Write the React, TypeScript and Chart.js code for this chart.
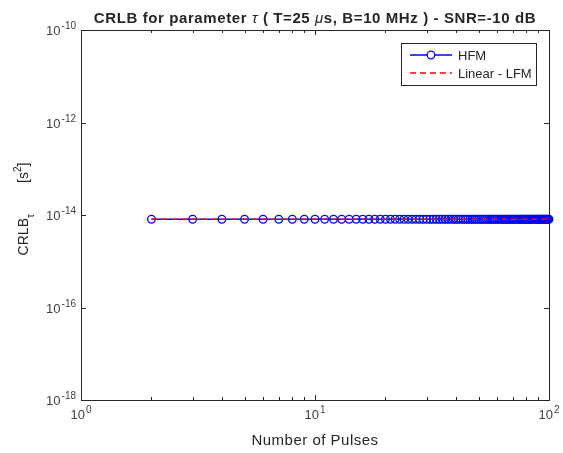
import React, { useEffect, useRef } from "react";
import { Chart, registerables } from "chart.js";
Chart.register(...registerables);

// ---- data ----
const pulses = [
  2, 3, 4, 5, 6, 7, 8, 9, 10, 11, 12,
  13, 14, 15, 16, 17, 18, 19, 20, 21, 22, 23,
  24, 25, 26, 27, 28, 29, 30, 31, 32, 33, 34,
  35, 36, 37, 38, 39, 40, 41, 42, 43, 44, 45,
  46, 47, 48, 49, 50, 51, 52, 53, 54, 55, 56,
  57, 58, 59, 60, 61, 62, 63, 64, 65, 66, 67,
  68, 69, 70, 71, 72, 73, 74, 75, 76, 77, 78,
  79, 80, 81, 82, 83, 84, 85, 86, 87, 88, 89,
  90, 91, 92, 93, 94, 95, 96, 97, 98, 99, 100,
];
const hfmCrlb = [
  8.1e-15, 8.1e-15, 8.1e-15, 8.1e-15, 8.1e-15, 8.1e-15, 8.1e-15, 8.1e-15, 8.1e-15, 8.1e-15, 8.1e-15,
  8.1e-15, 8.1e-15, 8.1e-15, 8.1e-15, 8.1e-15, 8.1e-15, 8.1e-15, 8.1e-15, 8.1e-15, 8.1e-15, 8.1e-15,
  8.1e-15, 8.1e-15, 8.1e-15, 8.1e-15, 8.1e-15, 8.1e-15, 8.1e-15, 8.1e-15, 8.1e-15, 8.1e-15, 8.1e-15,
  8.1e-15, 8.1e-15, 8.1e-15, 8.1e-15, 8.1e-15, 8.1e-15, 8.1e-15, 8.1e-15, 8.1e-15, 8.1e-15, 8.1e-15,
  8.1e-15, 8.1e-15, 8.1e-15, 8.1e-15, 8.1e-15, 8.1e-15, 8.1e-15, 8.1e-15, 8.1e-15, 8.1e-15, 8.1e-15,
  8.1e-15, 8.1e-15, 8.1e-15, 8.1e-15, 8.1e-15, 8.1e-15, 8.1e-15, 8.1e-15, 8.1e-15, 8.1e-15, 8.1e-15,
  8.1e-15, 8.1e-15, 8.1e-15, 8.1e-15, 8.1e-15, 8.1e-15, 8.1e-15, 8.1e-15, 8.1e-15, 8.1e-15, 8.1e-15,
  8.1e-15, 8.1e-15, 8.1e-15, 8.1e-15, 8.1e-15, 8.1e-15, 8.1e-15, 8.1e-15, 8.1e-15, 8.1e-15, 8.1e-15,
  8.1e-15, 8.1e-15, 8.1e-15, 8.1e-15, 8.1e-15, 8.1e-15, 8.1e-15, 8.1e-15, 8.1e-15, 8.1e-15, 8.1e-15,
];
const lfmCrlb = [
  8.1e-15, 8.1e-15, 8.1e-15, 8.1e-15, 8.1e-15, 8.1e-15, 8.1e-15, 8.1e-15, 8.1e-15, 8.1e-15, 8.1e-15,
  8.1e-15, 8.1e-15, 8.1e-15, 8.1e-15, 8.1e-15, 8.1e-15, 8.1e-15, 8.1e-15, 8.1e-15, 8.1e-15, 8.1e-15,
  8.1e-15, 8.1e-15, 8.1e-15, 8.1e-15, 8.1e-15, 8.1e-15, 8.1e-15, 8.1e-15, 8.1e-15, 8.1e-15, 8.1e-15,
  8.1e-15, 8.1e-15, 8.1e-15, 8.1e-15, 8.1e-15, 8.1e-15, 8.1e-15, 8.1e-15, 8.1e-15, 8.1e-15, 8.1e-15,
  8.1e-15, 8.1e-15, 8.1e-15, 8.1e-15, 8.1e-15, 8.1e-15, 8.1e-15, 8.1e-15, 8.1e-15, 8.1e-15, 8.1e-15,
  8.1e-15, 8.1e-15, 8.1e-15, 8.1e-15, 8.1e-15, 8.1e-15, 8.1e-15, 8.1e-15, 8.1e-15, 8.1e-15, 8.1e-15,
  8.1e-15, 8.1e-15, 8.1e-15, 8.1e-15, 8.1e-15, 8.1e-15, 8.1e-15, 8.1e-15, 8.1e-15, 8.1e-15, 8.1e-15,
  8.1e-15, 8.1e-15, 8.1e-15, 8.1e-15, 8.1e-15, 8.1e-15, 8.1e-15, 8.1e-15, 8.1e-15, 8.1e-15, 8.1e-15,
  8.1e-15, 8.1e-15, 8.1e-15, 8.1e-15, 8.1e-15, 8.1e-15, 8.1e-15, 8.1e-15, 8.1e-15, 8.1e-15, 8.1e-15,
];
const seriesNames = ["HFM", "Linear - LFM"];
const xTickExps = [0, 1, 2];
const xMinorTicks = [2, 3, 4, 5, 6, 7, 8, 9, 20, 30, 40, 50, 60, 70, 80, 90];
const yTickExps = [-10, -12, -14, -16, -18];
const xLabel = "Number of Pulses";

const FONT = '"Liberation Sans", Arial, Helvetica, sans-serif';
const TXT = "#262626";
const TICK_TXT = "#404040";
const BLUE = "#0000ff";
const RED = "#ff0000";

function drawPow(ctx: CanvasRenderingContext2D, exp: number, x: number, y: number, align: "center" | "right") {
  const base = "10";
  const e = String(exp);
  ctx.font = `13px ${FONT}`;
  const w1 = ctx.measureText(base).width + 1;
  ctx.font = `10px ${FONT}`;
  const w2 = ctx.measureText(e).width;
  const total = w1 + w2;
  const sx = align === "center" ? x - total / 2 : x - total;
  ctx.textAlign = "left";
  ctx.textBaseline = "alphabetic";
  ctx.fillStyle = TICK_TXT;
  ctx.font = `13px ${FONT}`;
  ctx.fillText(base, sx, y);
  ctx.font = `10px ${FONT}`;
  ctx.fillText(e, sx + w1, y - 6);
}

function drawSegments(
  ctx: CanvasRenderingContext2D,
  segs: { t: string; f: string; dy?: number }[],
  cx: number,
  y: number,
  spacing = 0
) {
  (ctx as any).letterSpacing = `${spacing}px`;
  let total = 0;
  for (const s of segs) {
    ctx.font = s.f;
    total += ctx.measureText(s.t).width;
  }
  let x = cx - total / 2;
  ctx.textAlign = "left";
  ctx.textBaseline = "alphabetic";
  ctx.fillStyle = TXT;
  for (const s of segs) {
    ctx.font = s.f;
    ctx.fillText(s.t, x, y + (s.dy || 0));
    x += ctx.measureText(s.t).width;
  }
  (ctx as any).letterSpacing = "0px";
}

const axesPlugin = {
  id: "matlabAxes",
  beforeDatasetsDraw(chart: any) {
    const ctx: CanvasRenderingContext2D = chart.ctx;
    const { left, right, top, bottom } = chart.chartArea;
    const xs = chart.scales.x;
    const ys = chart.scales.y;
    ctx.save();
    ctx.fillStyle = "#ffffff";
    ctx.fillRect(left, top, right - left, bottom - top);
    ctx.strokeStyle = TXT;
    ctx.lineWidth = 1;
    ctx.beginPath();
    for (const e of xTickExps) {
      const px = Math.round(xs.getPixelForValue(Math.pow(10, e))) + 0.5;
      ctx.moveTo(px, bottom);
      ctx.lineTo(px, bottom - 5);
      ctx.moveTo(px, top);
      ctx.lineTo(px, top + 5);
    }
    for (const v of xMinorTicks) {
      const px = Math.round(xs.getPixelForValue(v)) + 0.5;
      ctx.moveTo(px, bottom);
      ctx.lineTo(px, bottom - 3);
      ctx.moveTo(px, top);
      ctx.lineTo(px, top + 3);
    }
    for (const e of yTickExps) {
      const py = Math.round(ys.getPixelForValue(Math.pow(10, e))) + 0.5;
      ctx.moveTo(left, py);
      ctx.lineTo(left + 5, py);
      ctx.moveTo(right, py);
      ctx.lineTo(right - 5, py);
    }
    ctx.stroke();
    ctx.strokeRect(Math.round(left) + 0.5, Math.round(top) + 0.5, Math.round(right - left), Math.round(bottom - top));
    ctx.restore();
  },
  afterDraw(chart: any) {
    const ctx: CanvasRenderingContext2D = chart.ctx;
    const { left, right, top, bottom } = chart.chartArea;
    const xs = chart.scales.x;
    const ys = chart.scales.y;
    const cx = (left + right) / 2;
    ctx.save();
    // tick labels
    for (const e of xTickExps) {
      drawPow(ctx, e, xs.getPixelForValue(Math.pow(10, e)), bottom + 19, "center");
    }
    for (const e of yTickExps) {
      drawPow(ctx, e, left - 5, ys.getPixelForValue(Math.pow(10, e)) + 5, "right");
    }
    // title
    const b = `bold 15px ${FONT}`;
    const it = `italic 15px ${FONT}`;
    drawSegments(
      ctx,
      [
        { t: "CRLB for parameter ", f: b },
        { t: "τ", f: it },
        { t: " ( T=25 ", f: b },
        { t: "μ", f: it },
        { t: "s, B=10 MHz ) - SNR=-10 dB", f: b },
      ],
      cx,
      top - 7,
      0.6
    );
    // x label
    drawSegments(ctx, [{ t: xLabel, f: `15px ${FONT}` }], cx, bottom + 45, 0.5);
    // y label
    ctx.translate(28, (top + bottom) / 2 - 6);
    ctx.rotate(-Math.PI / 2);
    drawSegments(
      ctx,
      [
        { t: "CRLB", f: `14px ${FONT}` },
        { t: "τ", f: `10px ${FONT}`, dy: 6 },
        { t: "        ", f: `14px ${FONT}` },
        { t: "[s", f: `14px ${FONT}` },
        { t: "2", f: `10px ${FONT}`, dy: -7 },
        { t: "]", f: `14px ${FONT}` },
      ],
      0,
      0
    );
    ctx.restore();

    // legend
    ctx.save();
    const lx = 401, ly = 43, lw = 135, lh = 42;
    ctx.fillStyle = "#ffffff";
    ctx.fillRect(lx, ly, lw, lh);
    ctx.strokeStyle = TXT;
    ctx.lineWidth = 1;
    ctx.strokeRect(lx + 0.5, ly + 0.5, lw, lh);
    const rows = [ly + 12, ly + 30];
    ctx.lineWidth = 1.3;
    // HFM
    ctx.strokeStyle = BLUE;
    ctx.beginPath();
    ctx.moveTo(410, rows[0]);
    ctx.lineTo(452, rows[0]);
    ctx.stroke();
    ctx.beginPath();
    ctx.arc(431, rows[0], 3.8, 0, Math.PI * 2);
    ctx.fillStyle = "#ffffff";
    ctx.fill();
    ctx.stroke();
    // LFM
    ctx.strokeStyle = RED;
    ctx.setLineDash([6, 4]);
    ctx.beginPath();
    ctx.moveTo(410, rows[1]);
    ctx.lineTo(452, rows[1]);
    ctx.stroke();
    ctx.setLineDash([]);
    ctx.fillStyle = TXT;
    ctx.font = `13px ${FONT}`;
    ctx.textAlign = "left";
    ctx.textBaseline = "middle";
    ctx.fillText(seriesNames[0], 458, rows[0] + 1);
    ctx.fillText(seriesNames[1], 458, rows[1] + 1);
    ctx.restore();
  },
};

export default function App() {
  const ref = useRef<HTMLCanvasElement | null>(null);
  useEffect(() => {
    if (!ref.current) return;
    const chart = new Chart(ref.current, {
      type: "line",
      data: {
        datasets: [
          {
            label: seriesNames[0],
            data: pulses.map((x, i) => ({ x, y: hfmCrlb[i] })),
            borderColor: BLUE,
            borderWidth: 1.3,
            pointStyle: "circle",
            pointRadius: 3.8,
            pointBorderWidth: 1.3,
            pointBorderColor: BLUE,
            pointBackgroundColor: "rgba(0,0,0,0)",
            fill: false,
            clip: false as any,
            order: 2,
          },
          {
            label: seriesNames[1],
            data: pulses.map((x, i) => ({ x, y: lfmCrlb[i] })),
            borderColor: RED,
            borderWidth: 1.3,
            borderDash: [6, 4],
            pointRadius: 0,
            fill: false,
            clip: false as any,
            order: 1,
          },
        ],
      },
      options: {
        animation: false,
        responsive: true,
        maintainAspectRatio: false,
        layout: { padding: { left: 81, top: 30, right: 14, bottom: 53 } },
        plugins: { legend: { display: false }, tooltip: { enabled: false }, title: { display: false } },
        scales: {
          x: { type: "logarithmic", min: 1, max: 100, display: false },
          y: { type: "logarithmic", min: 1e-18, max: 1e-10, display: false },
        },
      },
      plugins: [axesPlugin],
    });
    return () => chart.destroy();
  }, []);
  return (
    <div style={{ position: "fixed", left: 0, top: 0, width: 563, height: 453, background: "#fff" }}>
      <canvas ref={ref} />
    </div>
  );
}
